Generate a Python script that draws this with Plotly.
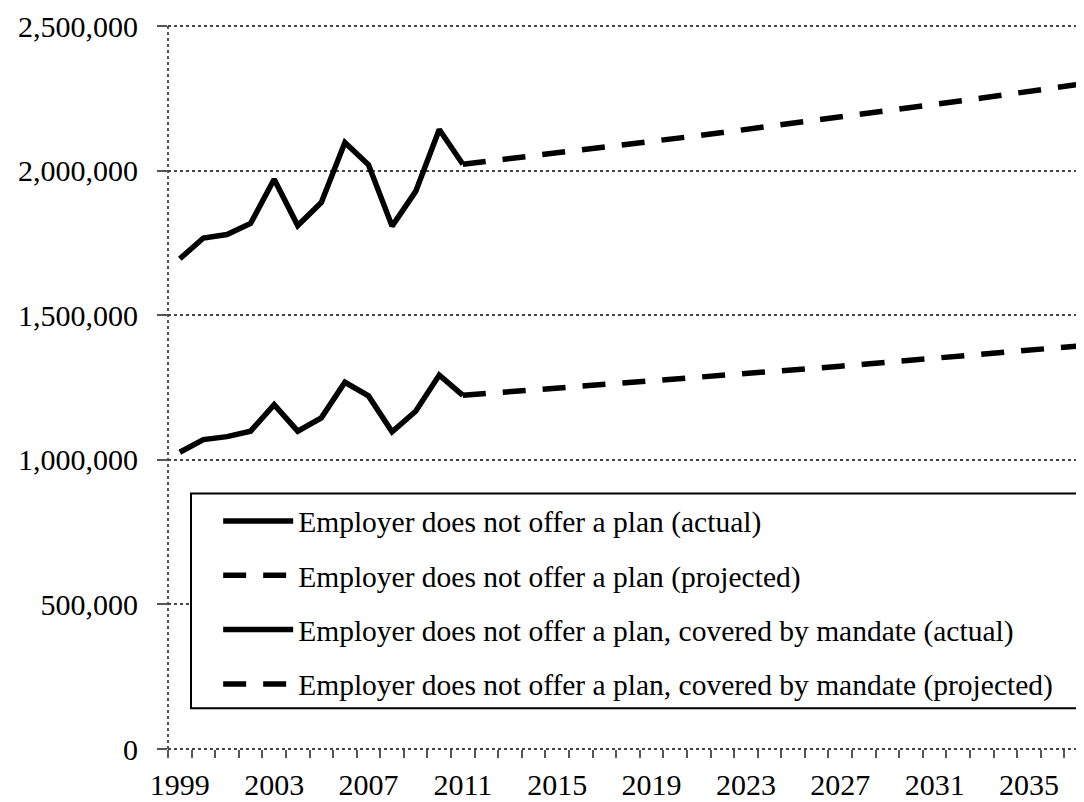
import plotly.graph_objects as go

# Years and values
actual_years = list(range(1999, 2012))
projected_years = list(range(2011, 2038))

no_plan_actual = [1695000, 1767000, 1779000, 1817000, 1970000, 1810000, 1890000,
                  2097000, 2020000, 1808000, 1928000, 2142000, 2022000]
mandate_actual = [1026000, 1070000, 1080000, 1099000, 1191000, 1099000, 1145000,
                  1268000, 1221000, 1097000, 1168000, 1293000, 1223000]

no_plan_projected = [2022000, 2031500, 2041000, 2051000, 2060500, 2070500, 2080500,
                     2090500, 2100500, 2111000, 2121000, 2131500, 2142000, 2152500,
                     2163000, 2173500, 2184500, 2195500, 2206500, 2217500, 2228500,
                     2239500, 2251000, 2262500, 2274000, 2285500, 2297000]
mandate_projected = [1223000, 1229000, 1235000, 1241000, 1247000, 1253000, 1259500,
                     1265500, 1272000, 1278000, 1284500, 1291000, 1297500, 1304000,
                     1310500, 1317000, 1323500, 1330500, 1337000, 1344000, 1350500,
                     1357500, 1364500, 1371500, 1378500, 1385500, 1393000]

x_tick_years = list(range(1999, 2036, 4))
y_tick_values = [0, 500000, 1000000, 1500000, 2000000, 2500000]
y_tick_labels = ["0", "500,000", "1,000,000", "1,500,000", "2,000,000", "2,500,000"]

font_family = "Liberation Serif, Times New Roman, serif"
line_w = 5.5
dash_style = "23px,17px"
grid_col = "#444"

fig = go.Figure()

series = [
    ("Employer does not offer a plan (actual)", actual_years, no_plan_actual, "solid"),
    ("Employer does not offer a plan (projected)", projected_years, no_plan_projected, dash_style),
    ("Employer does not offer a plan, covered by mandate (actual)", actual_years, mandate_actual, "solid"),
    ("Employer does not offer a plan, covered by mandate (projected)", projected_years, mandate_projected, dash_style),
]

for i, (name, xs, ys, dash) in enumerate(series):
    fig.add_trace(go.Scatter(
        x=xs, y=ys, mode="lines", name=name,
        legendgroup=f"g{i}",
        line=dict(color="black", width=line_w, dash=dash),
    ))

# page body has an 8px margin, so the figure is sized/offset to compensate
fig.update_layout(
    width=1076, height=794,
    margin=dict(l=160, r=1, t=14, b=53),
    plot_bgcolor="white", paper_bgcolor="white",
    font=dict(family=font_family, size=30, color="black"),
    showlegend=True,
    legend=dict(
        x=0.0275, y=0.351, xanchor="left", yanchor="top",
        bgcolor="rgba(0,0,0,0)", borderwidth=0,
        font=dict(family=font_family, size=29.5, color="black"),
        traceorder="grouped", tracegroupgap=13,
        itemwidth=70, indentation=25,
    ),
)

fig.update_xaxes(
    range=[1998.5, 2037.29],
    tickvals=x_tick_years,
    ticktext=[str(y) for y in x_tick_years],
    ticks="", showgrid=False, zeroline=False,
    showline=False,
    ticklabelstandoff=15,
    minor=dict(ticks="outside", tick0=1998.5, dtick=1, ticklen=8,
               tickcolor="#555", tickwidth=1.5, showgrid=False),
)

fig.update_yaxes(
    range=[0, 2500000],
    tickvals=y_tick_values, ticktext=y_tick_labels,
    ticks="outside", ticklen=10, tickcolor="#555", tickwidth=1.5,
    showgrid=True, gridcolor=grid_col, gridwidth=1.8, griddash="dot",
    zeroline=False, showline=False,
    ticklabelstandoff=13, ticklabeloverflow="allow",
)

# axis lines and the top gridline (plotly skips gridlines at the range edges)
for x0, x1, y0, y1 in [(0, 0, 0, 1), (0, 1, 0, 0), (0, 1, 1, 1)]:
    fig.add_shape(type="line", xref="paper", yref="paper", x0=x0, x1=x1, y0=y0, y1=y1,
                  line=dict(color=grid_col, width=1.8, dash="dot"), layer="below")

# legend frame: white box above the gridlines, legend text sits on top of it
fig.add_shape(type="rect", xref="paper", yref="paper",
              x0=23 / 915, x1=909 / 915, y0=41 / 727, y1=257 / 727,
              line=dict(color="black", width=2), fillcolor="white", layer="above")

fig.write_html("out.html")
